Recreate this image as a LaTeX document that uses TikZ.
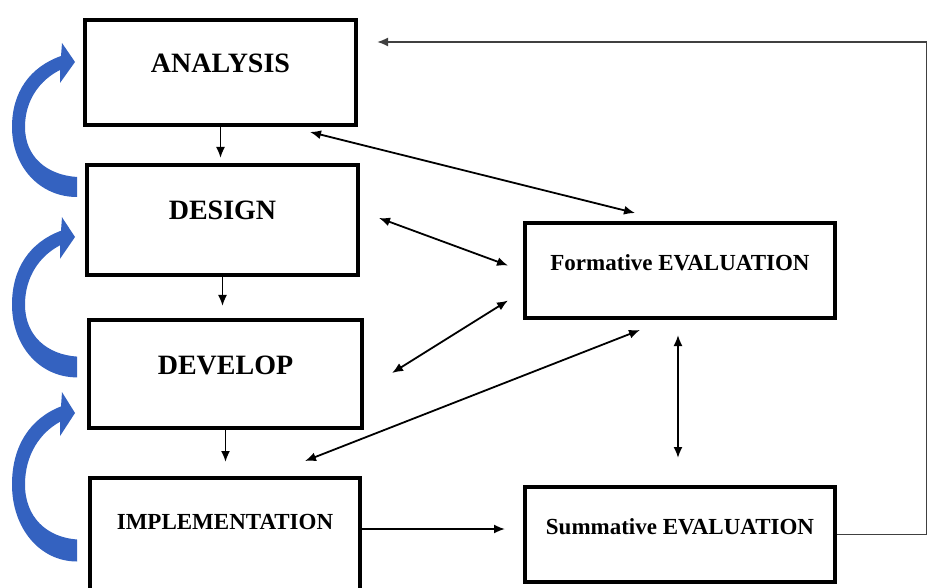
\documentclass[tikz,border=0pt]{standalone}
\usepackage{fontspec}
\setmainfont{Liberation Serif}
\usetikzlibrary{arrows.meta,calc}
\definecolor{turnblue}{RGB}{52,98,192}
\newcommand{\turnarrow}[2]{%
\fill [turnblue,shift={(75,#1)},yscale=#2] (-14,-6) .. controls (-45,5) and (-63,30) .. (-63,65)
  .. controls (-63,105) and (-35,135) .. (2,135) -- (2,115)
  .. controls (-28,113) and (-50,95) .. (-50,65)
  .. controls (-50,38) and (-35,18) .. (-15,8) -- (-15,21) -- (0,0) -- (-13,-19) -- cycle;}

\begin{document}
\begin{tikzpicture}[x=1pt,y=-1pt,
  box/.style={draw,line width=4pt,inner sep=0pt},
  big/.style={font=\fontsize{28}{30}\selectfont\bfseries,text height=20pt,text depth=20pt},
  small/.style={font=\fontsize{23}{25}\selectfont\bfseries,text height=16pt,text depth=16pt},
  flow/.style={line width=1.8pt,-{Latex[length=11pt,width=9pt]}},
  both/.style={line width=1.8pt,{Latex[length=11pt,width=9pt]}-{Latex[length=11pt,width=9pt]}}]
\useasboundingbox (0,0) rectangle (927,588);
\turnarrow{62}{1}
\turnarrow{237}{1.04}
\turnarrow{413}{1.1}
\node[box,big,minimum width=271pt,minimum height=105pt] (ana) at (220.5,72.5) {ANALYSIS};
\node[box,big,minimum width=271pt,minimum height=110pt] (des) at (222.5,220) {DESIGN};
\node[box,big,minimum width=273pt,minimum height=108pt] (dev) at (225.5,374) {DEVELOP};
\node[box,small,text depth=45pt,minimum width=270pt,minimum height=132pt] (imp) at (225,544) {IMPLEMENTATION};
\node[box,small,minimum width=310pt,minimum height=95pt] (form) at (680,270.5) {Formative EVALUATION};
\node[box,small,minimum width=310pt,minimum height=95pt] (summ) at (680,534.5) {Summative EVALUATION};
\draw[flow,shorten >=5pt] (ana.south) -- (ana.south |- des.north);
\draw[flow,shorten >=12pt] (des.south) -- (des.south |- dev.north);
\draw[flow,shorten >=14pt] (dev.south) -- (dev.south |- imp.north);
\draw[both] ($(ana.south east)+(-48,5)$) -- ($(form.north)+(-45,-8)$);
\draw[both] ($(des.east)+(19,-2)$) -- ($(form.west)+(-15,-5)$);
\draw[both] ($(dev.east)+(28,-1)$) -- ($(form.west)+(-15,30)$);
\draw[both] ($(imp.north)+(80,-15)$) -- ($(form.south)+(-40,10)$);
\draw[both] ($(form.south)+(-2,15)$) -- ($(summ.north)+(-2,-27)$);
\draw[flow,shorten >=18pt] ([yshift=15pt]imp.east) -- ([yshift=15pt]imp.east -| summ.west);
\draw[flow,black!75,shorten >=19pt] (summ.east) -- ++(90,0) |- ([yshift=30.5pt]ana.east);
\end{tikzpicture}
\end{document}
